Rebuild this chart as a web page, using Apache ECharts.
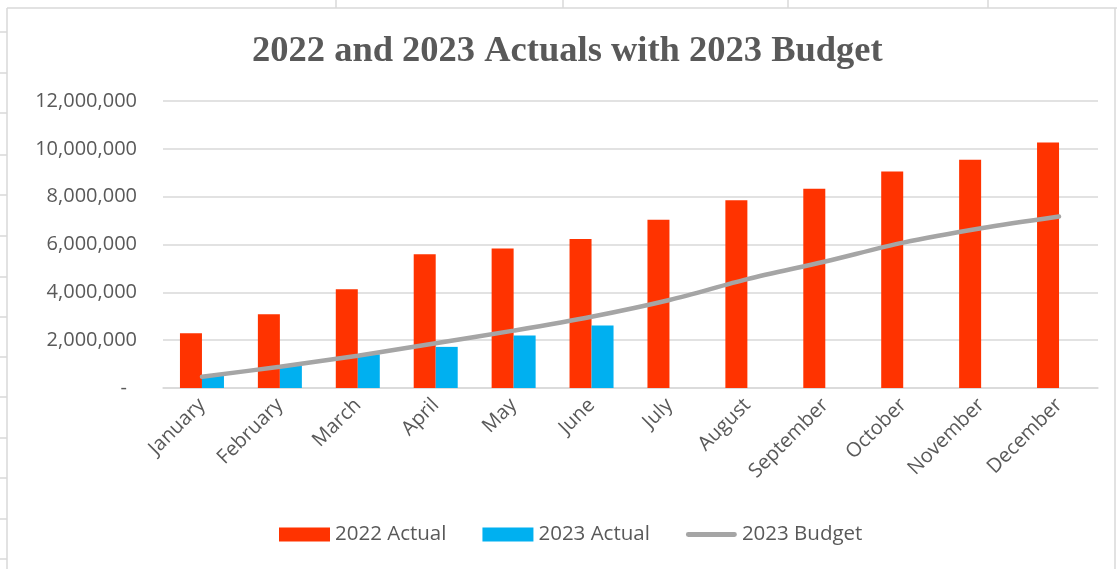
<!DOCTYPE html>
<html>
<head>
<meta charset="utf-8">
<title>2022 and 2023 Actuals with 2023 Budget</title>
<script src="https://cdn.jsdelivr.net/npm/echarts@6/dist/echarts.min.js"></script>
<style>
  html, body { margin: 0; padding: 0; background: #ffffff; }
  #chart { width: 1117px; height: 569px; }
</style>
</head>
<body>
<div id="chart"></div>
<script>
// Monthly figures
const months = ['January', 'February', 'March', 'April', 'May', 'June',
                'July', 'August', 'September', 'October', 'November', 'December'];
const actual2022 = [2290000, 3080000, 4130000, 5590000, 5830000, 6230000,
                    7040000, 7850000, 8330000, 9050000, 9540000, 10260000];
const actual2023 = [510000, 920000, 1410000, 1720000, 2200000, 2610000,
                    null, null, null, null, null, null];
const budget2023 = [470000, 890000, 1350000, 1870000, 2400000, 2980000,
                    3680000, 4550000, 5290000, 6080000, 6680000, 7170000];
const yTicks = [0, 2000000, 4000000, 6000000, 8000000, 10000000, 12000000];

const TEXT = '#595959';
const SHEET_LINE = '#d9d9d9';
const LABEL_FONT = '"Open Sans", "Noto Sans", sans-serif';

// worksheet cell borders around the embedded chart
const sheetLines = [];
[336, 563, 788, 988].forEach(x => sheetLines.push({ x1: x, y1: 0, x2: x, y2: 8 }));
[32, 73, 113, 155, 195, 236, 277, 317, 357, 397, 438, 478, 519, 559]
  .forEach(y => sheetLines.push({ x1: 0, y1: y, x2: 7, y2: y }));
sheetLines.push({ x1: 7, y1: 8, x2: 1117, y2: 8 });
sheetLines.push({ x1: 7, y1: 8, x2: 7, y2: 569 });
sheetLines.push({ x1: 1115, y1: 8, x2: 1115, y2: 569 });

const chart = echarts.init(document.getElementById('chart'), null, { renderer: 'canvas' });

chart.setOption({
  backgroundColor: '#ffffff',
  animation: false,
  graphic: sheetLines.map(s => ({
    type: 'line',
    shape: s,
    style: { stroke: SHEET_LINE, lineWidth: 1.5 },
    silent: true
  })),
  title: {
    text: '2022 and 2023 Actuals with 2023 Budget',
    left: 247,
    top: 28,
    textStyle: {
      fontFamily: '"Liberation Serif", "Times New Roman", serif',
      fontWeight: 'bold',
      fontSize: 36.5,
      color: TEXT
    }
  },
  legend: {
    top: 519,
    left: 274,
    itemWidth: 51,
    itemHeight: 14,
    itemGap: 36,
    data: [
      { name: '2022 Actual', icon: 'rect' },
      { name: '2023 Actual', icon: 'rect' },
      { name: '2023 Budget', icon: 'path://M2,0 L49,0 A2,2 0 0 1 49,5 L2,5 A2,2 0 0 1 2,0 Z' }
    ],
    textStyle: { fontFamily: LABEL_FONT, fontSize: 20.5, color: TEXT }
  },
  grid: { left: 163, right: 19, top: 101, bottom: 181 },
  xAxis: {
    type: 'category',
    data: months,
    axisLine: { lineStyle: { color: '#d9d9d9', width: 1.5 } },
    axisTick: { show: false },
    axisLabel: {
      rotate: 45,
      margin: 14,
      interval: 0,
      fontFamily: LABEL_FONT,
      fontSize: 20,
      color: TEXT
    }
  },
  yAxis: {
    type: 'value',
    min: yTicks[0],
    max: yTicks[yTicks.length - 1],
    interval: yTicks[1] - yTicks[0],
    axisLine: { show: false },
    axisTick: { show: false },
    splitLine: { lineStyle: { color: '#d9d9d9', width: 1.5 } },
    axisLabel: {
      margin: 26,
      fontFamily: LABEL_FONT,
      fontSize: 20,
      color: TEXT,
      formatter: v => v === 0 ? '{z|-}' : v.toLocaleString('en-US'),
      rich: {
        z: { fontFamily: LABEL_FONT, fontSize: 20, color: TEXT, padding: [0, 10, 0, 0] }
      }
    }
  },
  series: [
    {
      name: '2022 Actual',
      type: 'bar',
      data: actual2022,
      barWidth: 22,
      barGap: '0%',
      itemStyle: { color: '#ff3300' }
    },
    {
      name: '2023 Actual',
      type: 'bar',
      data: actual2023,
      barWidth: 22,
      barGap: '0%',
      itemStyle: { color: '#00b0f0' }
    },
    {
      name: '2023 Budget',
      type: 'line',
      data: budget2023,
      smooth: 0.3,
      showSymbol: false,
      symbol: 'none',
      lineStyle: { color: '#a5a5a5', width: 4.5, cap: 'round' },
      itemStyle: { color: '#a5a5a5' },
      z: 5
    }
  ]
});
</script>
</body>
</html>
